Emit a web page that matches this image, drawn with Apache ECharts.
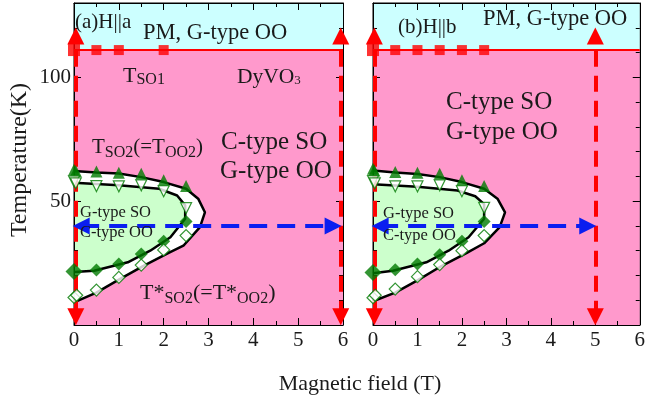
<!DOCTYPE html>
<html><head><meta charset="utf-8">
<script src="https://cdn.jsdelivr.net/npm/echarts@6/dist/echarts.min.js"></script>
<style>html,body{margin:0;padding:0;background:#fff}#c{width:648px;height:403px}</style>
</head><body><div id="c"></div>
<script>
// ---------------- data ----------------
const fieldRange = [0, 6];          // Magnetic field (T)
const tempRange = [0, 130];         // Temperature (K)
const tempTickLabels = [50, 100];
const T_SO1 = 111;

// Panel (a) H||a
const aSquares = [[0, 111], [0.5, 111], [1, 111], [2, 111]];
const aTriUp = [[0, 62.7], [0.04, 62.2], [0.5, 62.0], [1, 61.5], [1.5, 61.1], [2, 58.4], [2.5, 56.1]];
const aTriDown = [[0, 58.0], [0.04, 57.2], [0.5, 56.1], [1, 56.0], [1.5, 56.4], [2, 54.0], [2.5, 47.2]];
const aDiamond = [[0, 21.6], [0.5, 22.2], [1, 24.6], [1.5, 28.7], [2, 33.8], [2.5, 41.8]];
const aDiamondOpen = [[0, 11.1], [0.06, 12.0], [0.5, 14.1], [1, 19.2], [1.5, 24.2], [2, 30.3], [2.5, 36.1]];
const aOuter = [[0, 62.2], [0.5, 61.6], [1, 61.2], [1.5, 59.7], [2, 57.7], [2.5, 55.0], [2.77, 51.0], [2.92, 45.5],
                [2.81, 39.5], [2.44, 32.0], [2.1, 29.0], [1.55, 23.9], [1, 18.3], [0.5, 13.1], [0, 9.1]];
const aInner = [[0, 57.4], [1, 56.4], [1.9, 55.0], [2.3, 52.3], [2.48, 48.3], [2.48, 42.9], [2.15, 35.4],
                [1.7, 30.0], [1.2, 25.3], [0.45, 21.9], [0, 21.4]];
const aRedArrowFields = [0.04, 5.95];
const aBlueArrowFields = [0.16, 5.78];

// Panel (b) H||b
const bSquares = [[0, 111], [0.5, 111], [1, 111], [1.5, 111], [2, 111], [2.5, 111]];
const bTriUp = [[0, 63.1], [0.03, 62.4], [0.5, 61.8], [1, 61.5], [1.5, 61.1], [2, 58.4], [2.5, 56.1]];
const bTriDown = [[0, 58.1], [0.04, 57.2], [0.5, 56.0], [1, 56.0], [1.5, 56.4], [2, 54.0], [2.5, 47.3]];
const bDiamond = [[0, 21.2], [0.5, 22.3], [1, 24.6], [1.5, 28.4], [2, 33.8], [2.5, 41.8]];
const bDiamondOpen = [[0, 11.0], [0.05, 12.0], [0.5, 14.5], [1, 19.5], [1.5, 24.4], [2, 30.0], [2.5, 36.1]];
const bOuter = [[0, 62.4], [0.5, 61.6], [1, 61.0], [1.5, 59.7], [2, 57.7], [2.5, 55.0], [2.8, 51.0], [2.97, 45.5],
                [2.85, 39.5], [2.5, 33.0], [2.1, 29.0], [1.55, 23.9], [1, 18.0], [0.5, 13.1], [0, 9.6]];
const bInner = [[0, 56.8], [1, 55.8], [1.9, 54.3], [2.3, 52.0], [2.5, 48.8], [2.5, 42.9], [2.15, 35.4],
                [1.7, 30.0], [1.2, 25.3], [0.45, 21.9], [0, 20.9]];
const bRedArrowFields = [0.03, 5.0];
const bBlueArrowFields = [0.16, 4.83];

const redArrowTemps = [3.3, 116.7];
const blueArrowTemp = 40;

// ---------------- styles ----------------
const FONT = "'Liberation Serif', 'Times New Roman', serif";
const C_PM = '#ccffff', C_PINK = '#ff99cc', C_GREEN = '#ccffcc', C_MARK = '#007a00';
const C_RED = '#ff0000', C_BLUE = '#0a1ef0';

const chart = echarts.init(document.getElementById('c'), null, {renderer: 'canvas'});

function xAx(gridIndex, position, showLabel) {
  return {
    type: 'value', gridIndex, position, min: fieldRange[0], max: fieldRange[1], interval: 1, z: 3,
    axisLine: {show: true, onZero: false, lineStyle: {color: '#000', width: 1}},
    axisTick: {show: true, inside: true, length: 7, lineStyle: {color: '#000', width: 1}},
    minorTick: {show: true, splitNumber: 2, length: 4, lineStyle: {color: '#000', width: 1}},
    splitLine: {show: false}, minorSplitLine: {show: false},
    axisLabel: {show: showLabel, fontFamily: FONT, fontSize: 21, color: '#1a1a1a', margin: 5}
  };
}
function yAxMinor(gridIndex, position, showLabel) {
  return {
    type: 'value', gridIndex, position, min: tempRange[0], max: tempRange[1], interval: 10, z: 3,
    axisLine: {show: true, onZero: false, lineStyle: {color: '#000', width: 1}},
    axisTick: {show: true, inside: true, length: 4, lineStyle: {color: '#000', width: 1}},
    splitLine: {show: false},
    axisLabel: {show: showLabel, fontFamily: FONT, fontSize: 21, color: '#1a1a1a', margin: 3,
      formatter: v => tempTickLabels.indexOf(v) >= 0 ? String(v) : ''}
  };
}
function yAxMajor(gridIndex, position) {
  return {
    type: 'value', gridIndex, position, min: tempRange[0], max: tempRange[1], interval: 50, z: 3,
    axisLine: {show: false, onZero: false},
    axisTick: {show: true, inside: true, length: 7, lineStyle: {color: '#000', width: 1}},
    splitLine: {show: false}, axisLabel: {show: false}
  };
}

function poly(xi, yi, pts, fill, z) {
  return {
    type: 'custom', xAxisIndex: xi, yAxisIndex: yi, z, silent: true, animation: false,
    data: [[pts[0][0], pts[0][1]]],
    renderItem: (params, api) => ({
      type: 'polygon', shape: {points: pts.map(p => api.coord(p))}, style: {fill: fill, stroke: null}
    })
  };
}

function panel(xi, yi, d) {
  const f0 = fieldRange[0], f1 = fieldRange[1], t0 = tempRange[0], t1 = tempRange[1];
  const arrowLines = d.redFields.map(f => [
    {coord: [f, redArrowTemps[0]], lineStyle: {color: C_RED, width: 4, type: [16, 9]}, itemStyle: {color: C_RED}},
    {coord: [f, redArrowTemps[1]]}
  ]);
  arrowLines.push([
    {coord: [d.blueFields[0], blueArrowTemp], lineStyle: {color: C_BLUE, width: 4, type: [18, 10]}, itemStyle: {color: C_BLUE}},
    {coord: [d.blueFields[1], blueArrowTemp]}
  ]);
  return [
    poly(xi, yi, [[f0, T_SO1], [f1, T_SO1], [f1, t1], [f0, t1]], C_PM, 1),
    poly(xi, yi, [[f0, t0], [f1, t0], [f1, T_SO1], [f0, T_SO1]], C_PINK, 1),
    poly(xi, yi, d.outer, '#ffffff', 1),
    poly(xi, yi, d.inner, C_GREEN, 1),
    {type: 'line', xAxisIndex: xi, yAxisIndex: yi, z: 4, data: d.outer, showSymbol: false, silent: true,
      lineStyle: {color: '#000', width: 2.5}, animation: false},
    {type: 'line', xAxisIndex: xi, yAxisIndex: yi, z: 4, data: d.inner, showSymbol: false, silent: true,
      lineStyle: {color: '#000', width: 2.5}, animation: false},
    {type: 'line', xAxisIndex: xi, yAxisIndex: yi, z: 4, data: [[f0, T_SO1], [f1, T_SO1]], showSymbol: false,
      silent: true, lineStyle: {color: C_RED, width: 2}, animation: false},
    {type: 'scatter', xAxisIndex: xi, yAxisIndex: yi, z: 5, data: d.squares, symbol: 'rect',
      symbolSize: (v, p) => p.dataIndex === 0 ? 12 : 10, itemStyle: {color: C_RED}, silent: true, animation: false},
    {type: 'scatter', xAxisIndex: xi, yAxisIndex: yi, z: 6, data: d.triUp, symbol: 'triangle', symbolSize: 12,
      itemStyle: {color: C_MARK}, silent: true, animation: false},
    {type: 'scatter', xAxisIndex: xi, yAxisIndex: yi, z: 6, data: d.triDown, symbol: 'triangle', symbolSize: 11,
      symbolRotate: 180, itemStyle: {color: '#fff', borderColor: C_MARK, borderWidth: 1.2}, silent: true, animation: false},
    {type: 'scatter', xAxisIndex: xi, yAxisIndex: yi, z: 6, data: d.diamond, symbol: 'diamond',
      symbolSize: (v, p) => p.dataIndex === 0 ? 17 : 13, itemStyle: {color: C_MARK}, silent: true, animation: false},
    {type: 'scatter', xAxisIndex: xi, yAxisIndex: yi, z: 6, data: d.diamondOpen, symbol: 'diamond', symbolSize: 12,
      itemStyle: {color: '#fff', borderColor: C_MARK, borderWidth: 1.2}, silent: true, animation: false},
    {type: 'line', xAxisIndex: xi, yAxisIndex: yi, z: 7, data: [], silent: true, animation: false,
      markLine: {silent: true, animation: false, symbol: ['triangle', 'triangle'], symbolSize: 17,
        label: {show: false}, emphasis: {disabled: true}, data: arrowLines}}
  ];
}

function txt(x, y, text, size, align, rotation) {
  return {type: 'text', x, y, silent: true, z: 100, rotation: rotation || 0,
    style: {text, fontFamily: FONT, fontSize: size, fill: '#1a1a1a', align: align || 'left', verticalAlign: 'middle',
      textAlign: align || 'left', textVerticalAlign: 'middle'}};
}
function sub(x, y, parts, size, subSize, drop) {
  // parts: array of [string, isSub]
  const text = parts.map(p => '{' + (p[1] ? 's' : 'm') + '|' + p[0] + '}').join('');
  return {type: 'text', x, y, silent: true, z: 100,
    style: {text, align: 'left', verticalAlign: 'middle', textAlign: 'left', textVerticalAlign: 'middle',
      rich: {
        m: {fontFamily: FONT, fontSize: size, fill: '#1a1a1a', color: '#1a1a1a', lineHeight: 2 * (subSize / 2 + drop), verticalAlign: 'middle'},
        s: {fontFamily: FONT, fontSize: subSize, fill: '#1a1a1a', color: '#1a1a1a', lineHeight: subSize, verticalAlign: 'bottom'}
      }}};
}

const option = {
  animation: false,
  backgroundColor: '#fff',
  grid: [
    {left: 74, top: 3, width: 269, height: 322, show: true, borderColor: '#000', borderWidth: 1, backgroundColor: 'transparent'},
    {left: 373, top: 3, width: 269, height: 322, show: true, borderColor: '#000', borderWidth: 1, backgroundColor: 'transparent'}
  ],
  xAxis: [xAx(0, 'bottom', true), xAx(0, 'top', false), xAx(1, 'bottom', true), xAx(1, 'top', false)],
  yAxis: [yAxMinor(0, 'left', true), yAxMajor(0, 'left'), yAxMinor(0, 'right', false), yAxMajor(0, 'right'),
          yAxMinor(1, 'left', false), yAxMajor(1, 'left'), yAxMinor(1, 'right', false), yAxMajor(1, 'right')],
  series: [].concat(
    panel(0, 0, {outer: aOuter, inner: aInner, squares: aSquares, triUp: aTriUp, triDown: aTriDown,
      diamond: aDiamond, diamondOpen: aDiamondOpen, redFields: aRedArrowFields, blueFields: aBlueArrowFields}),
    panel(2, 4, {outer: bOuter, inner: bInner, squares: bSquares, triUp: bTriUp, triDown: bTriDown,
      diamond: bDiamond, diamondOpen: bDiamondOpen, redFields: bRedArrowFields, blueFields: bBlueArrowFields})
  ),
  graphic: [
    txt(20, 160, 'Temperature(K)', 24, 'center', Math.PI / 2),
    txt(360, 384, 'Magnetic field (T)', 22, 'center'),
    // panel (a)
    txt(75, 22, '(a)H||a', 21),
    txt(143, 33, 'PM, G-type OO', 22.5),
    sub(123, 76, [['T', 0], ['SO1', 1]], 22, 16, 4),
    sub(237, 77, [['DyVO', 0], ['3', 1]], 21.5, 13, 4),
    txt(221, 142.5, 'C-type SO', 25),
    txt(220, 171, 'G-type OO', 25),
    sub(92, 147, [['T', 0], ['SO2', 1], ['(=T', 0], ['OO2', 1], [')', 0]], 21, 16, 6),
    txt(80, 212.5, 'G-type SO', 16.5),
    txt(80, 233, 'C-type OO', 16.5),
    sub(140, 293, [['T*', 0], ['SO2', 1], ['(=T*', 0], ['OO2', 1], [')', 0]], 22, 16, 6),
    // panel (b)
    txt(398, 27.5, '(b)H||b', 21),
    txt(483, 19, 'PM, G-type OO', 22.5),
    txt(446, 102, 'C-type SO', 25),
    txt(446, 132.5, 'G-type OO', 25),
    txt(383, 214, 'G-type SO', 16.5),
    txt(383, 236, 'C-type OO', 16.5)
  ]
};
chart.setOption(option);
</script></body></html>
